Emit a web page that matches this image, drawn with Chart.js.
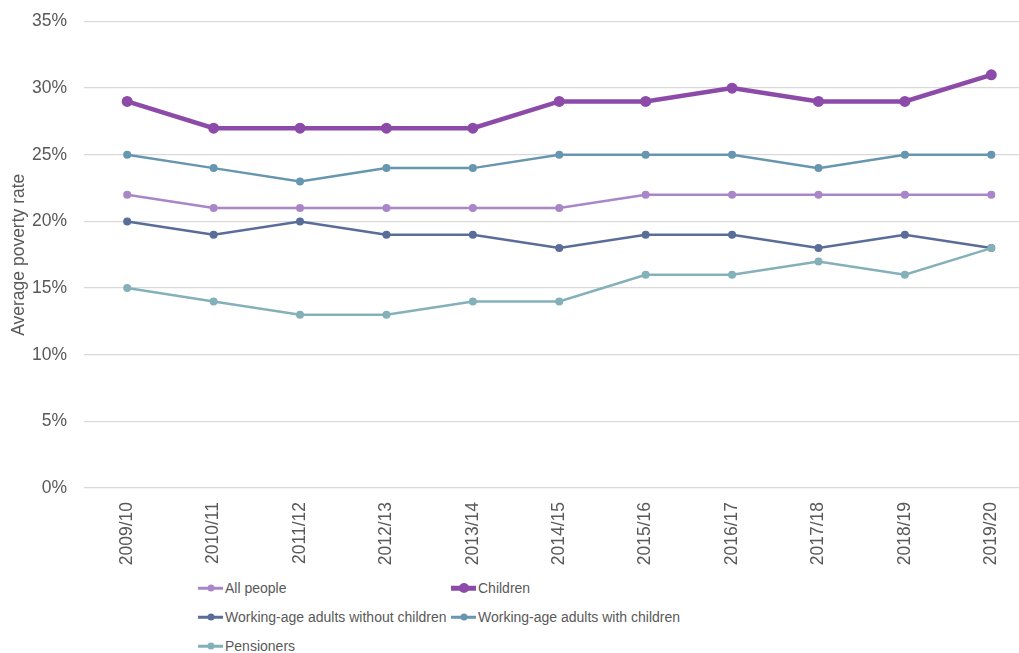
<!DOCTYPE html>
<html>
<head>
<meta charset="utf-8">
<script src="https://cdn.jsdelivr.net/npm/chart.js@4.4.1/dist/chart.umd.min.js"></script>
<style>
  html, body { margin: 0; padding: 0; background: #fff; overflow: hidden; }
  #wrap { position: relative; width: 1019px; height: 653px; overflow: hidden; }
  #box { position: absolute; left: 0; top: -6px; width: 1040px; height: 581px; }
  #legend { position: absolute; left: 198px; top: 575px; width: 700px; font-family: "Liberation Sans", Arial, sans-serif; font-size: 14px; color: #595959; }
  .item { position: absolute; display: flex; align-items: center; height: 24px; white-space: nowrap; }
  .sym { position: relative; width: 25px; height: 12px; margin-right: 2px; }
  .sym .ln { position: absolute; left: 0; right: 0; top: 50%; transform: translateY(-50%); }
  .sym .dot { position: absolute; left: 50%; top: 50%; transform: translate(-50%, -50%); border-radius: 50%; }
</style>
</head>
<body>
<div id="wrap">
  <div id="box"><canvas id="plot"></canvas></div>
  <div id="legend"></div>
</div>
<script>
const years = ['2009/10','2010/11','2011/12','2012/13','2013/14','2014/15','2015/16','2016/17','2017/18','2018/19','2019/20']

const allPeople = [22,21,21,21,21,21,22,22,22,22,22]
const children = [29,27,27,27,27,29,29,30,29,29,31]
const withoutChildren = [20,19,20,19,19,18,19,19,18,19,18]
const withChildren = [25,24,23,24,24,25,25,25,24,25,25]
const pensioners = [15,14,13,13,14,14,16,16,17,16,18]

const yTicks = [0,5,10,15,20,25,30,35]

const textColor = '#595959'
const font = '"Liberation Sans", Arial, sans-serif'

const series = [
  { label: 'All people', data: allPeople, color: '#a886c8', width: 2.5, radius: 4, order: 4 },
  { label: 'Children', data: children, color: '#8c4aa9', width: 4.5, radius: 5.5, order: 0 },
  { label: 'Working-age adults without children', data: withoutChildren, color: '#5a6c98', width: 2.5, radius: 4, order: 3 },
  { label: 'Working-age adults with children', data: withChildren, color: '#6696b0', width: 2.5, radius: 4, order: 2 },
  { label: 'Pensioners', data: pensioners, color: '#84b1b9', width: 2.5, radius: 4, order: 1 }
]

const ctx = document.getElementById('plot')
new Chart(ctx, {
  type: 'line',
  data: {
    labels: years,
    datasets: series.map(s => ({
      label: s.label,
      data: s.data,
      borderColor: s.color,
      backgroundColor: s.color,
      borderWidth: s.width,
      pointRadius: s.radius,
      pointHoverRadius: s.radius,
      pointBorderWidth: 0,
      tension: 0,
      fill: false,
      order: s.order
    }))
  },
  options: {
    responsive: true,
    maintainAspectRatio: false,
    animation: false,
    layout: { padding: { top: 13, left: 0, right: 0, bottom: 0 } },
    plugins: { legend: { display: false }, tooltip: { enabled: false } },
    scales: {
      x: {
        offset: true,
        grid: { display: false, drawTicks: false },
        border: { display: false },
        ticks: {
          color: textColor,
          font: { family: font, size: 17.5 },
          minRotation: 90, maxRotation: 90,
          padding: 14,
          autoSkip: false
        },
        afterFit: s => { s.height = 87 }
      },
      y: {
        min: 0, max: 35,
        afterBuildTicks: s => { s.ticks = yTicks.map(v => ({ value: v })) },
        grid: { color: '#d9d9d9', lineWidth: 1.3, drawTicks: false },
        border: { display: false },
        ticks: {
          color: textColor,
          font: { family: font, size: 17.5 },
          padding: 17,
          callback: v => v + '%'
        },
        title: {
          display: true,
          text: 'Average poverty rate',
          color: textColor,
          font: { family: font, size: 17.5 },
          padding: { top: 9, bottom: 0 }
        },
        afterFit: s => { s.width = 84 }
      }
    }
  }
})

// legend in two columns like the original
const legend = document.getElementById('legend')
const cols = [0, 253]
const rows = [1, 30, 59]
series.forEach((s, i) => {
  const item = document.createElement('div')
  item.className = 'item'
  item.style.left = cols[i % 2] + 'px'
  item.style.top = rows[Math.floor(i / 2)] + 'px'
  item.innerHTML = `<span class="sym"><span class="ln" style="height:${s.width}px;background:${s.color}"></span>` +
    `<span class="dot" style="width:${s.radius * 2 - 1}px;height:${s.radius * 2 - 1}px;background:${s.color}"></span></span>` +
    `<span>${s.label}</span>`
  legend.appendChild(item)
})
</script>
</body>
</html>
